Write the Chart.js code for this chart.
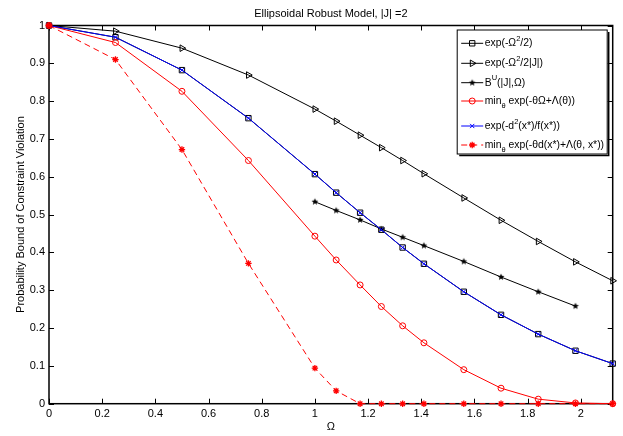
<!DOCTYPE html>
<html>
<head>
<meta charset="utf-8">
<title>Ellipsoidal Robust Model</title>
<script src="https://cdn.jsdelivr.net/npm/chart.js@4.4.1/dist/chart.umd.min.js"></script>
<style>
  html, body { margin: 0; padding: 0; background: #fff; }
  #wrap { width: 623px; height: 436px; }
</style>
</head>
<body>
<div id="wrap"><canvas id="boundChart" width="623" height="436"></canvas></div>
<script>
// values
const omega = [0, 0.25, 0.5, 0.75, 1.0, 1.08, 1.17, 1.25, 1.33, 1.41, 1.56, 1.70, 1.84, 1.98, 2.12];
const expHalf = [1, 0.969, 0.882, 0.755, 0.607, 0.558, 0.505, 0.460, 0.413, 0.370, 0.296, 0.235, 0.184, 0.140, 0.106];
const expJ = [1, 0.985, 0.940, 0.869, 0.779, 0.747, 0.710, 0.677, 0.643, 0.608, 0.544, 0.485, 0.429, 0.375, 0.325];
const boundU = [null, null, null, null, 0.534, 0.511, 0.486, 0.462, 0.440, 0.418, 0.376, 0.335, 0.296, 0.258, null];
const minTheta = [1, 0.955, 0.826, 0.643, 0.443, 0.380, 0.314, 0.257, 0.206, 0.161, 0.090, 0.041, 0.012, 0.002, 0];
const expD = [1, 0.969, 0.882, 0.755, 0.607, 0.558, 0.505, 0.460, 0.413, 0.370, 0.296, 0.235, 0.184, 0.140, 0.106];
const minThetaX = [1, 0.910, 0.672, 0.371, 0.094, 0.034, 0, 0, 0, 0, 0, 0, 0, 0, 0];

const xTickValues = [0, 0.2, 0.4, 0.6, 0.8, 1, 1.2, 1.4, 1.6, 1.8, 2];
const xTickLabels = ["0", "0.2", "0.4", "0.6", "0.8", "1", "1.2", "1.4", "1.6", "1.8", "2"];
const yTickValues = [0, 0.1, 0.2, 0.3, 0.4, 0.5, 0.6, 0.7, 0.8, 0.9, 1];
const yTickLabels = ["0", "0.1", "0.2", "0.3", "0.4", "0.5", "0.6", "0.7", "0.8", "0.9", "1"];

const chartTitle = "Ellipsoidal Robust Model, |J| =2";
const xTitle = "\u03A9";
const yTitle = "Probability Bound of Constraint Violation";

// legend labels as runs of [text, "sup" | "sub"]
const legendLabels = [
  [["exp(-\u03A9"], ["2", "sup"], ["/2)"]],
  [["exp(-\u03A9"], ["2", "sup"], ["/2|J|)"]],
  [["B"], ["U", "sup"], ["(|J|,\u03A9)"]],
  [["min"], ["\u03B8", "sub"], [" exp(-\u03B8\u03A9+\u039B(\u03B8))"]],
  [["exp(-d"], ["2", "sup"], ["(x*)/f(x*))"]],
  [["min"], ["\u03B8", "sub"], [" exp(-\u03B8d(x*)+\u039B(\u03B8, x*))"]],
];

const FONT = '"Liberation Sans", Arial, Helvetica, sans-serif';

function toPoints(values) {
  const pts = [];
  values.forEach((v, i) => {
    if (v !== null) pts.push({ x: omega[i], y: v });
  });
  return pts;
}

// small filled pentagram, like matlab's 'p' marker
function makePentagram(r, color) {
  const c = document.createElement("canvas");
  c.width = c.height = Math.ceil(r * 2 + 2);
  const ctx = c.getContext("2d");
  ctx.translate(c.width / 2, c.height / 2);
  ctx.beginPath();
  for (let i = 0; i < 10; i++) {
    const a = -Math.PI / 2 + (i * Math.PI) / 5;
    const rr = i % 2 ? r * 0.45 : r;
    if (i === 0) ctx.moveTo(Math.cos(a) * rr, Math.sin(a) * rr);
    else ctx.lineTo(Math.cos(a) * rr, Math.sin(a) * rr);
  }
  ctx.closePath();
  ctx.fillStyle = color;
  ctx.fill();
  return c;
}

const pentagram = makePentagram(3.6, "#000");

// axis box with inward ticks on all four sides
const boxPlugin = {
  id: "matlabBox",
  beforeDatasetsDraw(chart) {
    const { ctx, chartArea: a, scales } = chart;
    const tick = 5;
    ctx.save();
    ctx.strokeStyle = "#000";
    ctx.lineWidth = 1;
    scales.x.ticks.forEach((t) => {
      const px = Math.round(scales.x.getPixelForValue(t.value)) + 0.5;
      ctx.beginPath();
      ctx.moveTo(px, a.bottom);
      ctx.lineTo(px, a.bottom - tick);
      ctx.moveTo(px, a.top);
      ctx.lineTo(px, a.top + tick);
      ctx.stroke();
    });
    scales.y.ticks.forEach((t) => {
      const py = Math.round(scales.y.getPixelForValue(t.value)) + 0.5;
      ctx.beginPath();
      ctx.moveTo(a.left, py);
      ctx.lineTo(a.left + tick, py);
      ctx.moveTo(a.right, py);
      ctx.lineTo(a.right - tick, py);
      ctx.stroke();
    });
    ctx.lineWidth = 1.5;
    ctx.strokeRect(a.left, a.top, a.right - a.left, a.bottom - a.top);
    ctx.restore();
  },
};

const legendPlugin = {
  id: "matlabLegend",
  afterDatasetsDraw(chart) {
    const { ctx, chartArea: a } = chart;
    const w = 150;
    const h = 124;
    const x0 = a.right - 5.5 - w;
    const y0 = a.top + 4.5;
    const rowY = [13.3, 33.3, 52.7, 71, 96, 115];

    ctx.save();
    ctx.fillStyle = "#fff";
    ctx.fillRect(x0, y0, w, h);
    ctx.strokeStyle = "#000";
    ctx.lineWidth = 1;
    ctx.strokeRect(x0, y0, w, h);
    // shadow edge
    ctx.lineWidth = 1.5;
    ctx.beginPath();
    ctx.moveTo(x0 + w + 1.5, y0 + 2);
    ctx.lineTo(x0 + w + 1.5, y0 + h + 1.5);
    ctx.lineTo(x0 + 2, y0 + h + 1.5);
    ctx.stroke();

    chart.data.datasets.forEach((ds, i) => {
      const cy = y0 + rowY[i];
      const lx0 = x0 + 4;
      const lx1 = x0 + 26;
      ctx.strokeStyle = ds.borderColor;
      ctx.lineWidth = ds.borderWidth;
      ctx.setLineDash(ds.borderDash || []);
      ctx.beginPath();
      ctx.moveTo(lx0, cy);
      ctx.lineTo(lx1, cy);
      ctx.stroke();
      ctx.setLineDash([]);

      ctx.fillStyle = ds.pointBackgroundColor;
      ctx.strokeStyle = ds.pointBorderColor;
      ctx.lineWidth = ds.pointBorderWidth;
      if (Chart.helpers && Chart.helpers.drawPoint) {
        Chart.helpers.drawPoint(ctx, {
          pointStyle: ds.pointStyle,
          radius: ds.pointRadius,
          rotation: ds.pointRotation || 0,
          borderWidth: ds.pointBorderWidth,
        }, (lx0 + lx1) / 2, cy);
      }

      let tx = x0 + 27.5;
      ctx.fillStyle = "#000";
      ctx.textBaseline = "middle";
      ctx.textAlign = "left";
      legendLabels[i].forEach(([text, kind]) => {
        let dy = 0;
        if (kind) {
          ctx.font = "7.5px " + FONT;
          dy = kind === "sup" ? -4.5 : 5;
        } else {
          ctx.font = "10.4px " + FONT;
        }
        ctx.fillText(text, tx, cy + dy);
        tx += ctx.measureText(text).width;
      });
    });
    ctx.restore();
  },
};

const common = {
  borderWidth: 1,
  pointBorderWidth: 1,
  fill: false,
  tension: 0,
  clip: false,
};

const ctx = document.getElementById("boundChart").getContext("2d");
const boundChart = new Chart(ctx, {
  type: "line",
  data: {
    datasets: [
      {
        ...common,
        label: "exp(-Ω²/2)",
        data: toPoints(expHalf),
        borderColor: "#000",
        pointStyle: "rect",
        pointRadius: 3.8,
        pointBorderColor: "#000",
        pointBackgroundColor: "rgba(0,0,0,0)",
        order: 6,
      },
      {
        ...common,
        label: "exp(-Ω²/2|J|)",
        data: toPoints(expJ),
        borderColor: "#000",
        pointStyle: "triangle",
        pointRotation: 90,
        pointRadius: 3.8,
        pointBorderColor: "#000",
        pointBackgroundColor: "rgba(0,0,0,0)",
        order: 5,
      },
      {
        ...common,
        label: "B^U(|J|,Ω)",
        data: toPoints(boundU),
        borderColor: "#000",
        pointStyle: pentagram,
        pointRadius: 3.5,
        pointBorderColor: "#000",
        pointBackgroundColor: "#000",
        order: 4,
      },
      {
        ...common,
        label: "min exp(-θΩ+Λ(θ))",
        data: toPoints(minTheta),
        borderColor: "#ff0000",
        pointStyle: "circle",
        pointRadius: 3,
        pointBorderColor: "#ff0000",
        pointBackgroundColor: "rgba(0,0,0,0)",
        order: 3,
      },
      {
        ...common,
        label: "exp(-d²(x*)/f(x*))",
        data: toPoints(expD),
        borderColor: "#0000ff",
        pointStyle: "crossRot",
        pointRadius: 3,
        pointBorderColor: "#0000ff",
        pointBackgroundColor: "rgba(0,0,0,0)",
        order: 2,
      },
      {
        ...common,
        label: "min exp(-θd(x*)+Λ(θ, x*))",
        data: toPoints(minThetaX),
        borderColor: "#ff0000",
        borderDash: [6, 4],
        pointStyle: "star",
        pointRadius: 3.2,
        pointBorderWidth: 1.3,
        pointBorderColor: "#ff0000",
        pointBackgroundColor: "rgba(0,0,0,0)",
        order: 1,
      },
    ],
  },
  options: {
    responsive: false,
    animation: false,
    devicePixelRatio: 1,
    events: [],
    layout: {
      padding: { left: 0, right: 10.3, top: 0, bottom: 0 },
    },
    plugins: {
      legend: { display: false },
      tooltip: { enabled: false },
      title: {
        display: true,
        text: chartTitle,
        fullSize: false,
        color: "#000",
        font: { family: FONT, size: 11, weight: "normal" },
        padding: { top: 7, bottom: 5.3 },
      },
    },
    scales: {
      x: {
        type: "linear",
        min: 0,
        max: 2.12,
        grid: { display: false, drawTicks: false },
        border: { display: false },
        ticks: {
          padding: 4,
          color: "#000",
          maxRotation: 0,
          autoSkip: false,
          font: { family: FONT, size: 11 },
          callback: (v, i) => xTickLabels[i],
        },
        afterBuildTicks(scale) {
          scale.ticks = xTickValues.map((v) => ({ value: v }));
        },
        afterFit(scale) {
          scale.height = 32.3;
        },
        title: {
          display: true,
          text: xTitle,
          color: "#000",
          font: { family: FONT, size: 11 },
          padding: { top: 0, bottom: 2 },
        },
      },
      y: {
        min: 0,
        max: 1,
        grid: { display: false, drawTicks: false },
        border: { display: false },
        ticks: {
          padding: 4,
          color: "#000",
          autoSkip: false,
          font: { family: FONT, size: 11 },
          callback: (v, i) => yTickLabels[i],
        },
        afterBuildTicks(scale) {
          scale.ticks = yTickValues.map((v) => ({ value: v }));
        },
        afterFit(scale) {
          scale.width = 49;
        },
        title: {
          display: true,
          text: yTitle,
          color: "#000",
          font: { family: FONT, size: 11 },
          padding: { top: 14.4, bottom: 0 },
        },
      },
    },
  },
  plugins: [boxPlugin, legendPlugin],
});
</script>
</body>
</html>
